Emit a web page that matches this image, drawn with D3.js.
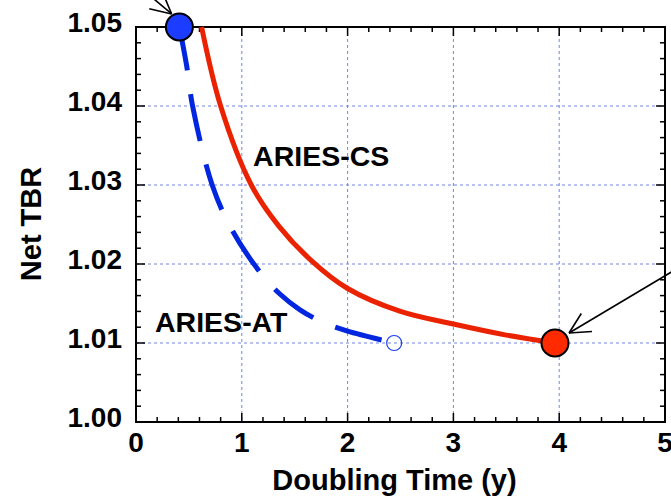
<!DOCTYPE html>
<html>
<head>
<meta charset="utf-8">
<script src="https://cdn.jsdelivr.net/npm/d3@7"></script>
<style>
  body { margin: 0; background: #fff; }
  text { font-family: "Liberation Sans", Arial, sans-serif; font-weight: bold; fill: #000; }
</style>
</head>
<body>
<div id="chart"></div>
<script>
// ARIES-CS (red, solid) and ARIES-AT (blue, dashed): Net TBR vs doubling time
const csDoubling = [0.62, 0.80, 1.09, 1.35, 1.66, 2.00, 2.50, 3.00, 3.50, 3.96];
const csTBR      = [1.050, 1.040, 1.030, 1.0248, 1.0204, 1.0169, 1.0140, 1.0124, 1.0110, 1.0100];

const atDoubling = [0.41, 0.48, 0.535, 0.72, 0.90, 1.17, 1.36, 1.55, 1.77, 2.00, 2.44];
const atTBR      = [1.050, 1.045, 1.040, 1.030, 1.0245, 1.019, 1.0162, 1.0142, 1.0126, 1.0115, 1.0100];

const xTicks = [0, 1, 2, 3, 4, 5];
const yTicks = [1.00, 1.01, 1.02, 1.03, 1.04, 1.05];

const width = 671, height = 498;
const margin = { top: 27, right: 6, bottom: 76, left: 136 };
const w = width - margin.left - margin.right;
const h = height - margin.top - margin.bottom;

const x = d3.scaleLinear().domain([0, 5]).range([0, w]);
const y = d3.scaleLinear().domain([1.00, 1.05]).range([h, 0]);

const svg = d3.select('#chart').append('svg')
    .attr('width', width)
    .attr('height', height);

const g = svg.append('g')
    .attr('transform', `translate(${margin.left},${margin.top})`);

// grid lines
g.append('g')
    .selectAll('line')
    .data(xTicks.slice(1, -1))
    .enter().append('line')
    .attr('x1', d => x(d)).attr('x2', d => x(d))
    .attr('y1', 0).attr('y2', h)
    .attr('stroke', '#7484e4')
    .attr('stroke-width', 1)
    .attr('stroke-dasharray', '3,3');

g.append('g')
    .selectAll('line')
    .data(yTicks.slice(1, -1))
    .enter().append('line')
    .attr('y1', d => y(d)).attr('y2', d => y(d))
    .attr('x1', 0).attr('x2', w)
    .attr('stroke', '#7484e4')
    .attr('stroke-width', 1)
    .attr('stroke-dasharray', '3,3');

// inward ticks on all four sides
const minorX = d3.range(0, 5.0001, 0.2);
const minorY = d3.range(1.00, 1.05001, 0.002);

const tickGroup = g.append('g').attr('stroke', '#000').attr('stroke-width', 1.5);
const isMajorX = d => Math.abs(d - Math.round(d)) < 1e-6;
const isMajorY = d => Math.abs(d * 100 - Math.round(d * 100)) < 1e-6;

tickGroup.selectAll('.tb').data(minorX).enter().append('line')
    .attr('x1', d => x(d)).attr('x2', d => x(d))
    .attr('y1', h).attr('y2', d => h - (isMajorX(d) ? 9 : 5));
tickGroup.selectAll('.tt').data(minorX).enter().append('line')
    .attr('x1', d => x(d)).attr('x2', d => x(d))
    .attr('y1', 0).attr('y2', d => (isMajorX(d) ? 9 : 5));
tickGroup.selectAll('.tl').data(minorY).enter().append('line')
    .attr('y1', d => y(d)).attr('y2', d => y(d))
    .attr('x1', 0).attr('x2', d => (isMajorY(d) ? 9 : 5));
tickGroup.selectAll('.tr').data(minorY).enter().append('line')
    .attr('y1', d => y(d)).attr('y2', d => y(d))
    .attr('x1', w).attr('x2', d => w - (isMajorY(d) ? 9 : 5));

// frame
g.append('rect')
    .attr('width', w).attr('height', h)
    .attr('fill', 'none')
    .attr('stroke', '#000')
    .attr('stroke-width', 2);

// tick labels
g.append('g').selectAll('text').data(xTicks).enter().append('text')
    .attr('x', d => x(d))
    .attr('y', h + 30)
    .attr('text-anchor', 'middle')
    .style('font-size', '28px')
    .text(d => d);

g.append('g').selectAll('text').data(yTicks).enter().append('text')
    .attr('x', -14)
    .attr('y', d => y(d) + 5)
    .attr('text-anchor', 'end')
    .style('font-size', '28px')
    .text(d => d.toFixed(2));

// axis titles
svg.append('text')
    .attr('x', margin.left + w / 2 - 6)
    .attr('y', 490)
    .attr('text-anchor', 'middle')
    .style('font-size', '29px')
    .text('Doubling Time (y)');

svg.append('text')
    .attr('transform', 'translate(41,224) rotate(-90)')
    .attr('text-anchor', 'middle')
    .style('font-size', '29px')
    .text('Net TBR');

const line = d3.line()
    .x(d => x(d[0]))
    .y(d => y(d[1]))
    .curve(d3.curveCatmullRom.alpha(0.5));

const csData = csDoubling.map((d, i) => [d, csTBR[i]]);
const atData = atDoubling.map((d, i) => [d, atTBR[i]]);

// ARIES-CS curve
g.append('path')
    .datum(csData)
    .attr('fill', 'none')
    .attr('stroke', '#ea2200')
    .attr('stroke-width', 5)
    .attr('d', line);

// ARIES-AT dashed curve
g.append('path')
    .datum(atData)
    .attr('fill', 'none')
    .attr('stroke', '#0026e0')
    .attr('stroke-width', 5)
    .attr('stroke-dasharray', '48,24')
    .attr('stroke-dashoffset', 4)
    .attr('d', line);

// end point markers
const csEnd = csData[csData.length - 1];
const atStart = atData[0];
const atEnd = atData[atData.length - 1];

g.append('circle')
    .attr('cx', x(atEnd[0])).attr('cy', y(atEnd[1]))
    .attr('r', 7.5)
    .attr('fill', 'none')
    .attr('stroke', '#1a3cf0')
    .attr('stroke-width', 1.2);

g.append('circle')
    .attr('cx', x(csEnd[0])).attr('cy', y(csEnd[1]))
    .attr('r', 13.5)
    .attr('fill', '#ff2a00')
    .attr('stroke', '#000')
    .attr('stroke-width', 2);

g.append('circle')
    .attr('cx', x(atStart[0])).attr('cy', y(atStart[1]))
    .attr('r', 13.5)
    .attr('fill', '#1c3cff')
    .attr('stroke', '#000')
    .attr('stroke-width', 2);

// curve labels
g.append('text')
    .attr('x', x(1.107)).attr('y', y(1.0324))
    .style('font-size', '28.5px')
    .text('ARIES-CS');

g.append('text')
    .attr('x', x(0.18)).attr('y', y(1.0114))
    .style('font-size', '28.5px')
    .text('ARIES-AT');

// pointer arrows (data units: from, to)
const arrows = [
    { from: [5.25, 1.0205], to: [4.093, 1.01127] },
    { from: [0.05, 1.0549], to: [0.337, 1.05165] }
];

arrows.forEach(a => {
    const x0 = x(a.from[0]), y0 = y(a.from[1]);
    const x1 = x(a.to[0]), y1 = y(a.to[1]);
    const ang = Math.atan2(y0 - y1, x0 - x1);
    const len = 23, spread = 27 * Math.PI / 180;
    g.append('line')
        .attr('x1', x0).attr('y1', y0).attr('x2', x1).attr('y2', y1)
        .attr('stroke', '#000').attr('stroke-width', 1.6);
    [ang - spread, ang + spread].forEach(t => {
        g.append('line')
            .attr('x1', x1).attr('y1', y1)
            .attr('x2', x1 + len * Math.cos(t)).attr('y2', y1 + len * Math.sin(t))
            .attr('stroke', '#000').attr('stroke-width', 1.6);
    });
});
</script>
</body>
</html>
